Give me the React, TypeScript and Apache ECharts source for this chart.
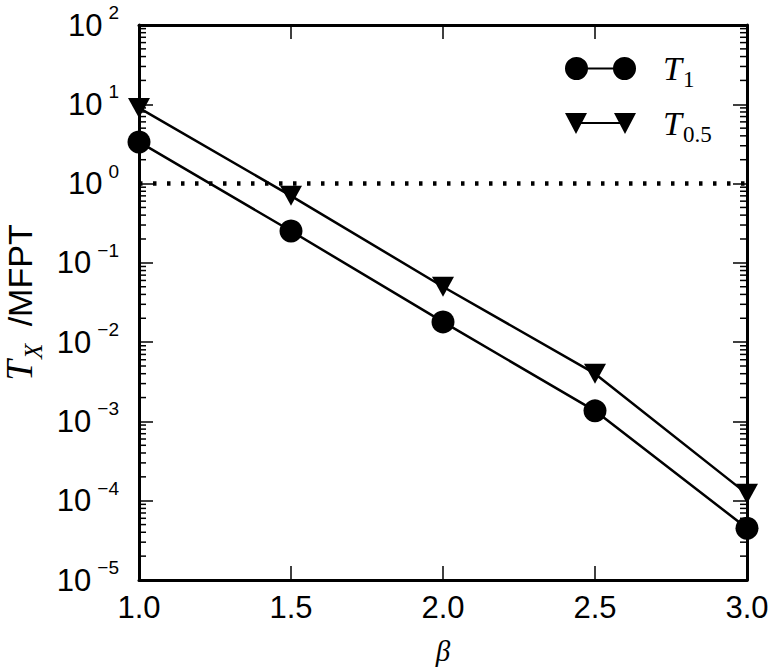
import React, { useEffect, useRef } from "react";
import * as echarts from "echarts";

// ---- data ----
const betaValues = [1.0, 1.5, 2.0, 2.5, 3.0];
const t1Values = [3.35, 0.252, 0.018, 0.00136, 4.5e-5];
const t05Values = [9.0, 0.7, 0.05, 0.004, 1.22e-4];
const referenceLevel = [1, 1];
const referenceBeta = [1.0, 3.0];
const seriesNames = ["T1", "T0.5"];
const legendLabels = ["{t|T}{s|1}", "{t|T}{s|0.5}"];
const yDecadeExponents = [-5, -4, -3, -2, -1, 0, 1, 2];
const minorMultipliers = [2, 3, 4, 5, 6, 7, 8, 9];

const X_MIN = 1.0;
const X_MAX = 3.0;
const Y_MIN = 1e-5;
const Y_MAX = 1e2;

const CIRCLE_ICON =
  "path://M0,11.5 A11.5,11.5 0 1,1 23,11.5 A11.5,11.5 0 1,1 0,11.5 Z M11.5,10.5 H59.5 V12.5 H11.5 Z M48,11.5 A11.5,11.5 0 1,1 71,11.5 A11.5,11.5 0 1,1 48,11.5 Z";
const TRI_ICON =
  "path://M0,1 L22,1 L11,22 Z M11,10 H60 V12 H11 Z M49,1 L71,1 L60,22 Z";

const SANS = "'Liberation Sans', Arial, Helvetica, sans-serif";
const SERIF = "'Liberation Serif', 'DejaVu Serif', serif";

export default function App() {
  const ref = useRef<HTMLDivElement>(null);

  useEffect(() => {
    if (!ref.current) return;
    const chart = echarts.init(ref.current, undefined, { renderer: "svg" });

    const minorTicks: number[][] = [];
    yDecadeExponents.slice(0, -1).forEach((e) => {
      minorMultipliers.forEach((m) => minorTicks.push([X_MIN, m * Math.pow(10, e)]));
    });

    const supLabel = (v: number) => {
      const e = Math.round(Math.log10(v));
      const s = e < 0 ? "\u2212" + Math.abs(e) : String(e);
      return "{b|10}{e|" + s + "}";
    };

    const axisLineStyle = { color: "#000", width: 3 };

    chart.setOption({
      animation: false,
      backgroundColor: "#fff",
      grid: {
        left: 139,
        top: 25,
        width: 608,
        height: 555,
        containLabel: false,
        outerBoundsMode: "none",
      },
      legend: {
        orient: "vertical",
        left: 560,
        top: 41,
        itemWidth: 71,
        itemHeight: 23,
        itemGap: 10,
        selectedMode: false,
        data: [
          { name: seriesNames[0], icon: CIRCLE_ICON },
          { name: seriesNames[1], icon: TRI_ICON },
        ],
        formatter: (name: string) => legendLabels[seriesNames.indexOf(name)],
        itemStyle: { color: "#000" },
        textStyle: {
          color: "#000",
          padding: [0, 0, 0, 22],
          rich: {
            t: { fontFamily: SERIF, fontStyle: "italic", fontSize: 34, color: "#000", verticalAlign: "middle", lineHeight: 34 },
            s: { fontFamily: SERIF, fontSize: 23, color: "#000", verticalAlign: "middle", lineHeight: 23, padding: [22, 0, 0, 1] },
          },
        },
      },
      xAxis: [
        {
          type: "value",
          min: X_MIN,
          max: X_MAX,
          interval: 0.5,
          position: "bottom",
          name: "\u03b2",
          nameLocation: "middle",
          nameGap: 56,
          nameTextStyle: { fontFamily: SERIF, fontStyle: "italic", fontSize: 29, color: "#000", lineHeight: 30 },
          axisLine: { show: true, onZero: false, lineStyle: axisLineStyle },
          axisTick: { show: true, inside: true, length: 14, lineStyle: { color: "#000", width: 1.5 } },
          axisLabel: {
            show: true,
            margin: 12,
            fontFamily: SANS,
            fontSize: 31,
            color: "#000",
            formatter: (v: number) => v.toFixed(1),
          },
          splitLine: { show: false },
        },
        {
          type: "value",
          min: X_MIN,
          max: X_MAX,
          interval: 0.5,
          position: "top",
          axisLine: { show: true, onZero: false, lineStyle: axisLineStyle },
          axisTick: { show: true, inside: true, length: 14, lineStyle: { color: "#000", width: 1.5 } },
          axisLabel: { show: false },
          splitLine: { show: false },
        },
      ],
      yAxis: [
        {
          type: "log",
          logBase: 10,
          min: Y_MIN,
          max: Y_MAX,
          position: "left",
          name: "{t|T}{s|X}{m| /MFPT}",
          nameLocation: "middle",
          nameRotate: 90,
          nameGap: 99,
          nameTextStyle: {
            color: "#000",
            rich: {
              t: { fontFamily: SERIF, fontStyle: "italic", fontSize: 37, color: "#000", verticalAlign: "middle", lineHeight: 36 },
              s: { fontFamily: SERIF, fontStyle: "italic", fontSize: 25, color: "#000", verticalAlign: "middle", lineHeight: 25, padding: [27, 0, 0, 1] },
              m: { fontFamily: SANS, fontSize: 34, color: "#000", verticalAlign: "middle", lineHeight: 36, padding: [0, 0, 0, 8] },
            },
          },
          axisLine: { show: true, onZero: false, lineStyle: axisLineStyle },
          axisTick: { show: true, inside: true, length: 14, lineStyle: { color: "#000", width: 1.5 } },
          axisLabel: {
            show: true,
            margin: 20,
            formatter: supLabel,
            rich: {
              b: { fontFamily: SANS, fontSize: 31, color: "#000", verticalAlign: "middle", lineHeight: 32 },
              e: { fontFamily: SANS, fontSize: 19, color: "#000", verticalAlign: "middle", lineHeight: 19, padding: [0, 0, 25, 6] },
            },
          },
          splitLine: { show: false },
          minorTick: { show: false },
        },
        {
          type: "log",
          logBase: 10,
          min: Y_MIN,
          max: Y_MAX,
          position: "right",
          axisLine: { show: true, onZero: false, lineStyle: axisLineStyle },
          axisTick: { show: true, inside: true, length: 14, lineStyle: { color: "#000", width: 1.5 } },
          axisLabel: { show: false },
          splitLine: { show: false },
        },
      ],
      series: [
        {
          name: "minor",
          type: "custom",
          xAxisIndex: 0,
          yAxisIndex: 0,
          silent: true,
          clip: false,
          z: 1,
          data: minorTicks,
          renderItem: (_params: any, api: any) => {
            const v = api.value(1);
            const pL = api.coord([X_MIN, v]);
            const pR = api.coord([X_MAX, v]);
            const st = { stroke: "#000", lineWidth: 1.5 };
            return {
              type: "group",
              children: [
                { type: "line", shape: { x1: pL[0], y1: pL[1], x2: pL[0] + 7, y2: pL[1] }, style: st },
                { type: "line", shape: { x1: pR[0], y1: pR[1], x2: pR[0] - 7, y2: pR[1] }, style: st },
              ],
            };
          },
        },
        {
          name: "reference",
          type: "line",
          xAxisIndex: 0,
          yAxisIndex: 0,
          data: referenceBeta.map((b, i) => [b, referenceLevel[i]]),
          symbol: "none",
          silent: true,
          clip: false,
          lineStyle: { color: "#000", width: 4.5, type: [3.5, 10.5], cap: "butt" },
          z: 3,
        },
        {
          name: seriesNames[0],
          type: "line",
          xAxisIndex: 0,
          yAxisIndex: 0,
          data: betaValues.map((b, i) => [b, t1Values[i]]),
          symbol: "circle",
          symbolSize: 23,
          clip: false,
          itemStyle: { color: "#000" },
          lineStyle: { color: "#000", width: 2.5 },
          z: 4,
        },
        {
          name: seriesNames[1],
          type: "line",
          xAxisIndex: 0,
          yAxisIndex: 0,
          data: betaValues.map((b, i) => [b, t05Values[i]]),
          symbol: "triangle",
          symbolRotate: 180,
          symbolSize: [22, 20],
          clip: false,
          itemStyle: { color: "#000" },
          lineStyle: { color: "#000", width: 2.5 },
          z: 4,
        },
      ],
    });

    return () => chart.dispose();
  }, []);

  return (
    <div
      ref={ref}
      style={{ position: "fixed", left: 0, top: 0, width: 777, height: 669, background: "#fff" }}
    />
  );
}
